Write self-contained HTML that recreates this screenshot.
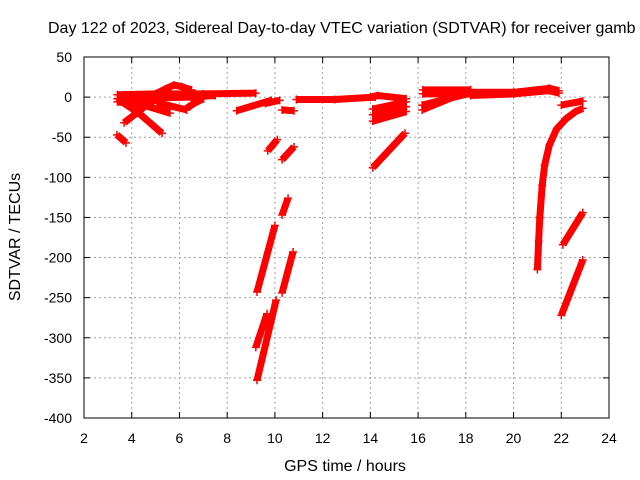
<!DOCTYPE html>
<html><head><meta charset="utf-8"><style>
html,body{margin:0;padding:0;background:#fff}
svg{display:block;font-family:"Liberation Sans",sans-serif}
</style></head><body>
<svg id="chart" width="640" height="480" viewBox="0 0 640 480">
<rect x="0" y="0" width="640" height="480" fill="#fff"/>
<g id="grid"></g>
<g id="marks"></g>
<rect x="84" y="57" width="525" height="361" fill="none" stroke="#000" stroke-width="1"/>
<g id="ticks"></g>
<text x="48" y="33" font-size="16" fill="#000">Day 122 of 2023, Sidereal Day-to-day VTEC variation (SDTVAR) for receiver gamb</text>
<text x="345" y="471" font-size="16" text-anchor="middle">GPS time / hours</text>
<text x="0" y="0" font-size="16" text-anchor="middle" transform="translate(20,237) rotate(-90)">SDTVAR / TECUs</text>
</svg>
<script>
const xTicks = [2,4,6,8,10,12,14,16,18,20,22,24];
const yTicks = [50,0,-50,-100,-150,-200,-250,-300,-350,-400];
// each segment: times (hours) and SDTVAR values (TECU)
const segTimes = [
 [3.38,3.76],
 [3.4,5,7,9.2],
 [3.5,5,6.5,7.5],
 [3.4,4.5,5.6],
 [3.68,4.8,5.4],
 [3.4,4.3,5.27],
 [5.0,5.4,5.77,6.1,6.5],
 [5.06,6.3],
 [6.3,6.6,7.0],
 [8.4,9.85],
 [9.6,10.2],
 [10.3,10.8],
 [10.9,12.5,14.2],
 [14.0,14.3,15.5],
 [14.1,15.5],
 [14.1,15.5],
 [14.1,15.5],
 [9.7,10.1],
 [10.3,10.8],
 [9.25,10.0],
 [9.25,10.05],
 [9.2,9.67],
 [10.3,10.76],
 [10.3,10.55],
 [14.1,15.45],
 [16.2,18.2],
 [16.2,18.2],
 [16.17,18.2],
 [16.17,18.2],
 [18.2,20,21.5,21.9],
 [18.2,20,21.5,21.9],
 [22.0,22.9],
 [21.0,21.05,21.1,21.2,21.3,21.5,21.8,22.2,22.6,22.9],
 [22.07,22.9],
 [22.0,22.9]
];
const segValues = [
 [-47,-57],
 [3,4,4,5],
 [-3,-1,0,2],
 [-6,-10,-20],
 [-32,-6,0],
 [-2,-20,-45],
 [4,10,15,13,9],
 [-7,-16],
 [-14,-8,-2],
 [-17,-4],
 [-8,-4],
 [-16,-17],
 [-3,-3,0],
 [0,2,-2],
 [-30,-18],
 [-22,-12],
 [-15,-6],
 [-67,-53],
 [-78,-62],
 [-243,-160],
 [-353,-253],
 [-312,-270],
 [-244,-193],
 [-147,-126],
 [-88,-45],
 [9,9],
 [4,4],
 [-16,9],
 [-10,5],
 [2,4,8,5],
 [6,6,11,8],
 [-10,-5],
 [-215,-180,-150,-110,-85,-60,-40,-27,-18,-14],
 [-184,-144],
 [-272,-203]
];
const NS='http://www.w3.org/2000/svg';
const X = t => 84 + (t-2)*(525/22);
const Y = v => 57 + (50-v)*(361/450);
const grid=document.getElementById('grid'), ticks=document.getElementById('ticks'), marks=document.getElementById('marks');
function mk(tag,attrs,parent){const e=document.createElementNS(NS,tag);for(const k in attrs)e.setAttribute(k,attrs[k]);parent.appendChild(e);return e;}
xTicks.forEach(t=>{
  const x=X(t);
  if(t>2&&t<24){const g=mk('line',{x1:x,y1:57,x2:x,y2:418,stroke:'#a0a0a0','stroke-dasharray':'2,3','stroke-width':1},grid);
  
  }
  const tk=mk('line',{x1:x,y1:418,x2:x,y2:412,stroke:'#000'},ticks);
  
  
  const tk2=mk('line',{x1:x,y1:57,x2:x,y2:63,stroke:'#000'},ticks);
  
  
  const l=mk('text',{x:x,y:443,'font-size':14,'text-anchor':'middle'},ticks);l.textContent=t;
  
  
});
yTicks.forEach(v=>{
  const y=Y(v);
  if(v<50&&v>-400){const g=mk('line',{x1:84,y1:y,x2:609,y2:y,stroke:'#a0a0a0','stroke-dasharray':'2,3','stroke-width':1},grid);
  
  }
  const tk=mk('line',{x1:84,y1:y,x2:90,y2:y,stroke:'#000'},ticks);
  
  
  const tk2=mk('line',{x1:609,y1:y,x2:603,y2:y,stroke:'#000'},ticks);
  
  
  const l=mk('text',{x:72,y:y+5,'font-size':14,'text-anchor':'end'},ticks);l.textContent=v;
  
  
});
segTimes.forEach((ts,i)=>{
  const vs=segValues[i];
  const pts=ts.map((t,j)=>X(t).toFixed(1)+','+Y(vs[j]).toFixed(1)).join(' ');
  const p=mk('polyline',{points:pts,fill:'none',stroke:'#ff0000','stroke-width':7,'stroke-linecap':'butt','stroke-linejoin':'round'},marks);
  
  
  ts.forEach((t,j)=>{
    const x=X(t),y=Y(vs[j]);
    const m=mk('path',{d:`M${x-4},${y}H${x+4}M${x},${y-4}V${y+4}`,stroke:'#ff0000','stroke-width':1.5},marks);
    
    
  });
});
</script>
</body></html>
